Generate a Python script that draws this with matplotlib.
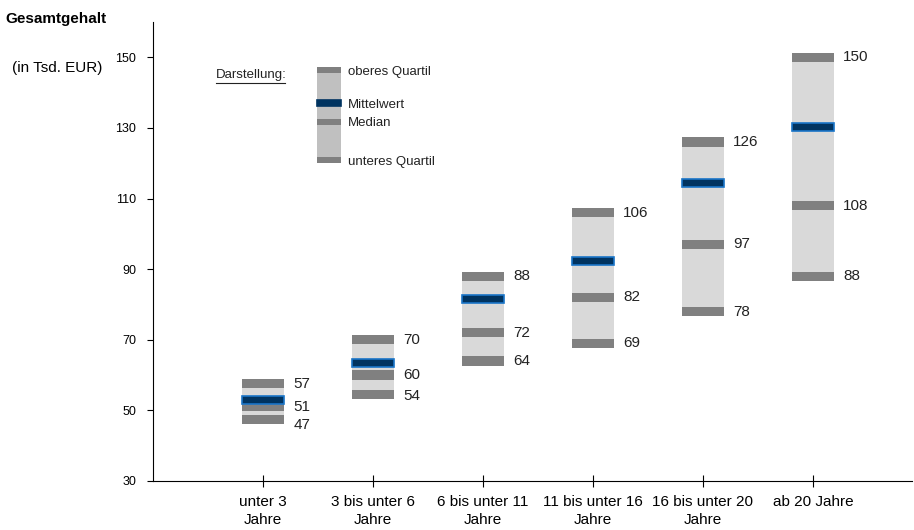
import matplotlib
matplotlib.use('Agg')
import matplotlib.pyplot as plt
from matplotlib.patches import Rectangle

plt.rcParams['font.family'] = ['Liberation Sans', 'DejaVu Sans']

CATEGORIES = ['unter 3\nJahre', '3 bis unter 6\nJahre', '6 bis unter 11\nJahre',
              '11 bis unter 16\nJahre', '16 bis unter 20\nJahre', 'ab 20 Jahre']
Q1 = [47.5, 54.5, 64, 69, 78, 88]
MEDIAN = [51, 60, 72, 82, 97, 108]
Q3 = [57.5, 70, 88, 106, 126, 150]
MEAN = [53, 63.5, 81.5, 92.3, 114.3, 130.3]
Q1_LABELS = ['47', '54', '64', '69', '78', '88']
MED_LABELS = ['51', '60', '72', '82', '97', '108']
Q3_LABELS = ['57', '70', '88', '106', '126', '150']
Y_TICKS = [30, 50, 70, 90, 110, 130, 150]

LEGEND_TEXT = ['oberes Quartil', 'Mittelwert', 'Median', 'unteres Quartil']

BOX_COLOR = '#d9d9d9'
QUART_COLOR = '#808080'
MEAN_FILL = '#003360'
MEAN_EDGE = '#1a75c8'
TXT = '#222222'


def draw_box(ax, x, lo, med, hi, mean, w, bg, bar_h=2.6, mean_h=2.3, mean_edge=MEAN_EDGE):
    ax.add_patch(Rectangle((x - w / 2, lo), w, hi - lo, facecolor=bg, edgecolor='none'))
    for v in (lo, med, hi):
        ax.add_patch(Rectangle((x - w / 2, v - bar_h / 2), w, bar_h, facecolor=QUART_COLOR, edgecolor='none'))
    ax.add_patch(Rectangle((x - w / 2, mean - mean_h / 2), w, mean_h, facecolor=MEAN_FILL,
                           edgecolor=mean_edge, linewidth=1.2))


def main():
    fig = plt.figure(figsize=(9.14, 5.30), dpi=100)
    ax = fig.add_axes([0.1674, 0.0925, 0.8304, 0.866])

    w = 0.39
    for i in range(len(CATEGORIES)):
        draw_box(ax, i, Q1[i], MEDIAN[i], Q3[i], MEAN[i], w, BOX_COLOR)
        lx = i + w / 2 + 0.08
        # first two groups: lower labels pushed down a little so they don't collide
        nudge = -1.7 if i == 0 else (-0.5 if i == 1 else 0)
        ax.text(lx, Q3[i], Q3_LABELS[i], va='center', ha='left', fontsize=11, color=TXT)
        ax.text(lx, MEDIAN[i], MED_LABELS[i], va='center', ha='left', fontsize=11, color=TXT)
        ax.text(lx, Q1[i] + nudge, Q1_LABELS[i], va='center', ha='left', fontsize=11, color=TXT)

    # legend ("Darstellung")
    lx = 0.6
    lvals = [146.3, 137, 131.6, 121]
    draw_box(ax, lx, lvals[3], lvals[2], lvals[0], lvals[1], 0.21, '#c0c0c0',
             bar_h=1.7, mean_h=1.6, mean_edge=MEAN_FILL)
    text_y = [145.8, 136.4, 131.4, 120.4]
    for v, t in zip(text_y, LEGEND_TEXT):
        ax.text(lx + 0.17, v, t, va='center', ha='left', fontsize=9.5, color=TXT)
    ax.text(-0.43, 145.0, 'Darstellung:', va='center', ha='left', fontsize=9.5, color=TXT)
    ax.plot([-0.43, 0.2], [142.7, 142.7], color=TXT, linewidth=0.8)

    ax.set_xlim(-1, 5.9)
    ax.set_ylim(30, 160)
    ax.set_xticks(range(len(CATEGORIES)))
    ax.set_xticklabels(CATEGORIES, fontsize=11, linespacing=1.4)
    ax.set_yticks(Y_TICKS)
    ax.set_yticklabels([str(v) for v in Y_TICKS], fontsize=9)
    ax.spines['top'].set_visible(False)
    ax.spines['right'].set_visible(False)
    ax.tick_params(axis='x', direction='inout', length=8, pad=6)
    ax.tick_params(axis='y', direction='out', length=4, pad=8)

    fig.text(0.006, 0.965, 'Gesamtgehalt', fontsize=11, fontweight='bold', va='center')
    fig.text(0.013, 0.872, '(in Tsd. EUR)', fontsize=11, va='center')

    fig.savefig('out.png', dpi=100)
    plt.close(fig)


if __name__ == '__main__':
    main()
